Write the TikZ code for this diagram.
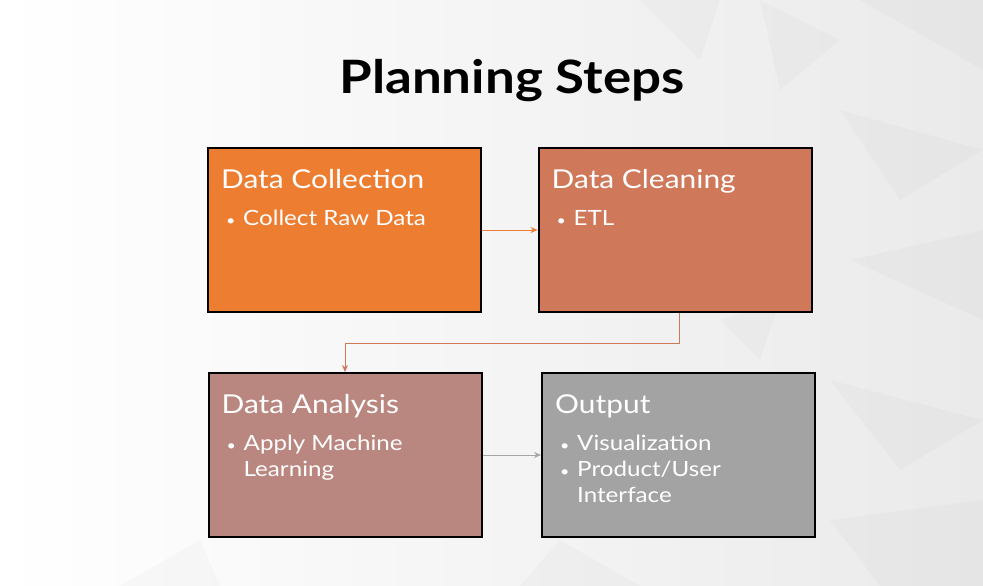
\documentclass[tikz,border=0pt]{standalone}
\usepackage{fontspec}
\setmainfont{Lato}[FakeStretch=1.15]
\usetikzlibrary{arrows.meta,calc}
\definecolor{cOrange}{HTML}{ED7D31}
\definecolor{cClean}{HTML}{D0785A}
\definecolor{cAna}{HTML}{B9877F}
\definecolor{cOut}{HTML}{A3A3A3}
\definecolor{bgA}{HTML}{FFFFFF}
\definecolor{bgB}{HTML}{EAEAEA}
\tikzset{
  stepbox/.style={draw=black, line width=2pt, minimum width=273pt, minimum height=164pt, inner sep=0pt},
  head/.style={anchor=base west, text=white, font=\fontsize{26}{30}\selectfont, inner sep=0pt},
  item/.style={anchor=base west, text=white, font=\fontsize{21}{24}\selectfont, inner sep=0pt},
  dot/.style={anchor=base west, text=white, font=\fontsize{14}{24}\selectfont, inner sep=0pt},
  link/.style={line width=0.9pt, -{Stealth[length=7pt,width=6pt]}},
  facet/.style={fill=black, fill opacity=0.018, draw=none}
}
\begin{document}
\begin{tikzpicture}[x=1pt,y=-1pt]
\useasboundingbox (0,0) rectangle (983,586);
\shade[left color=bgA, right color=bgB] (0,0) rectangle (983,586);
% faint background facets
\fill[facet] (640,0) -- (720,0) -- (700,60) -- cycle;
\fill[facet] (760,0) -- (840,40) -- (780,90) -- cycle;
\fill[facet] (860,0) -- (983,0) -- (983,70) -- cycle;
\fill[facet] (840,110) -- (983,150) -- (900,200) -- cycle;
\fill[facet] (850,260) -- (983,230) -- (983,320) -- cycle;
\fill[facet] (830,380) -- (983,420) -- (900,470) -- cycle;
\fill[facet] (830,520) -- (983,500) -- (983,586) -- (880,586) -- cycle;
\fill[facet] (560,540) -- (640,586) -- (520,586) -- cycle;
\fill[facet] (720,320) -- (780,300) -- (760,360) -- cycle;
\fill[facet] (120,586) -- (200,540) -- (220,586) -- cycle;

\node[font=\fontsize{46}{50}\selectfont\bfseries] (title) at (512,81) {Planning Steps};

\node[stepbox, fill=cOrange] (col) at (344.5,230) {};
\node[stepbox, fill=cClean] (cln) at (675,230) {};
\node[stepbox, fill=cAna] (ana) at (345,455) {};
\node[stepbox, fill=cOut] (out) at (678.5,455) {};

% Data Collection
\node[head] (colh) at ($(col.north west)+(14,41)$) {Data Collection};
\node[dot] (colb1) at ($(col.north west)+(19,78)$) {•};
\node[item] (colt1) at ($(col.north west)+(36,78)$) {Collect Raw Data};
% Data Cleaning
\node[head] (clnh) at ($(cln.north west)+(14,41)$) {Data Cleaning};
\node[dot] (clnb1) at ($(cln.north west)+(19,78)$) {•};
\node[item] (clnt1) at ($(cln.north west)+(36,78)$) {ETL};
% Data Analysis
\node[head] (anah) at ($(ana.north west)+(14,41)$) {Data Analysis};
\node[dot] (anab1) at ($(ana.north west)+(19,78)$) {•};
\node[item] (anat1) at ($(ana.north west)+(36,78)$) {Apply Machine};
\node[item] (anat2) at ($(ana.north west)+(36,104)$) {Learning};
% Output
\node[head] (outh) at ($(out.north west)+(14,41)$) {Output};
\node[dot] (outb1) at ($(out.north west)+(19,78)$) {•};
\node[item] (outt1) at ($(out.north west)+(36,78)$) {Visualization};
\node[dot] (outb2) at ($(out.north west)+(19,104)$) {•};
\node[item] (outt2) at ($(out.north west)+(36,104)$) {Product/User};
\node[item] (outt3) at ($(out.north west)+(36,130)$) {Interface};

% connectors
\draw[link, draw=cOrange] (col.east) -- (cln.west);
\draw[link, draw=cClean] ([xshift=4pt]cln.south) -- ++(0,30) -| (ana.north);
\draw[link, draw=gray!70] (ana.east) -- (out.west);
\end{tikzpicture}
\end{document}
